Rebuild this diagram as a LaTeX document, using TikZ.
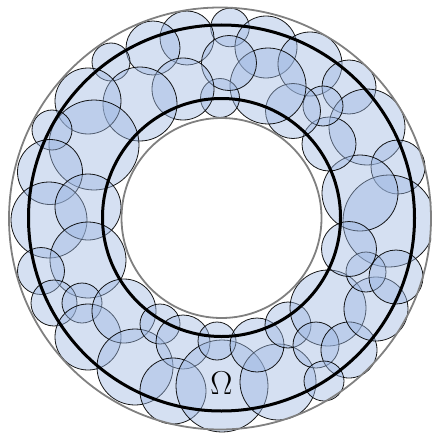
\documentclass[tikz,border=0pt]{standalone}
\begin{document}
\definecolor{discblue}{RGB}{157,183,225}
\tikzset{
  disc/.style={fill=discblue, fill opacity=0.43, draw=black, draw opacity=0.9, line width=0.8pt},
  rimgray/.style={draw=gray, line width=1.8pt},
  rimblack/.style={draw=black, line width=3pt}
}
\begin{tikzpicture}[x=1pt,y=-1pt]
\useasboundingbox (0,0) rectangle (431,436);
\begin{scope}
\clip (0,0) rectangle (431,436);
\foreach \cx/\cy/\r in {
 230/27.5/19.3, 187/38/27, 153/48/27, 111/62/19, 266/47/31, 310/64/32,
 349/87/27, 367/127/38, 398/167/27, 389/221/46, 360/193/38, 329/144/27,
 323/106/20, 293/111/27.5, 268/86/38, 220/98/19.5, 229/63/27.5, 183/89/31,
 140/104/37, 88/101/33, 94/145/45, 52/130/20, 50/172/32.5, 49/220/38,
 88/207/33, 88/260/38, 41/271/23.5, 54/303/23, 82/303/20, 88/337/33,
 124/311/32, 135/367/38, 160/324/20, 183/342/27, 173/391/33, 222/386/46,
 278/382/38, 217/341/19, 257/345/27, 288/325/23, 328/308/38, 316/345/23,
 349/350/28, 324/381/20, 376/309/32, 366/272/20, 396/277/27, 349/249/27.5}
  \path[disc] (\cx,\cy) circle[radius=\r];
\end{scope}
\draw[rimgray] (220,218.5) circle[radius=211];
\draw[rimgray] (221.5,218) circle[radius=100];
\draw[rimblack] (221.5,218) circle[radius=193];
\draw[rimblack] (221.5,217.5) circle[radius=119];
\node[inner sep=0pt, font=\Huge] (omega) at (221.5,383) {\scalebox{1.33}{$\Omega$}};
\end{tikzpicture}
\end{document}
